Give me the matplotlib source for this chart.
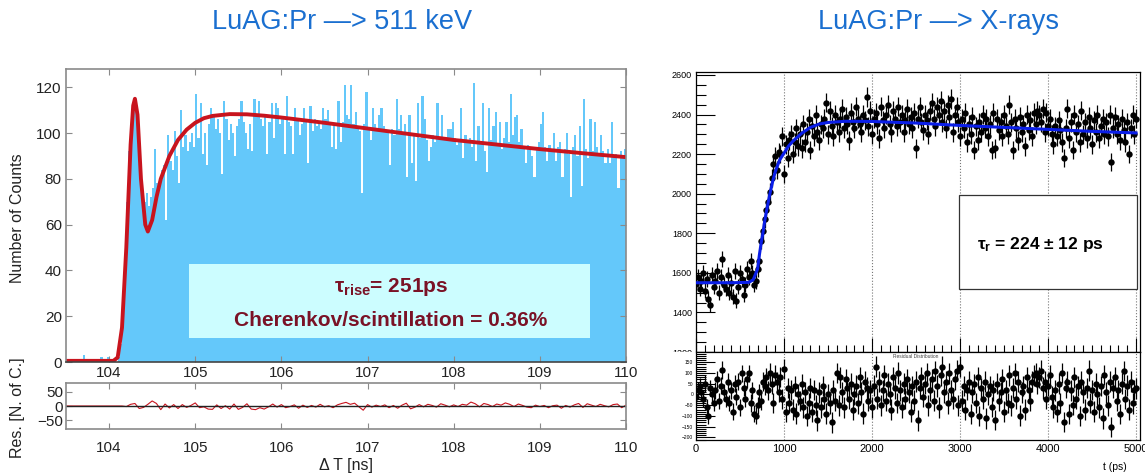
import numpy as np
import matplotlib
matplotlib.use('Agg')
import matplotlib.pyplot as plt
from matplotlib.patches import Rectangle
from matplotlib.ticker import MultipleLocator

plt.rcParams['font.family'] = ['Liberation Sans', 'DejaVu Sans']
plt.rcParams['mathtext.fontset'] = 'custom'
plt.rcParams['mathtext.rm'] = 'Liberation Sans:bold'
plt.rcParams['mathtext.it'] = 'Liberation Sans:bold'
plt.rcParams['mathtext.bf'] = 'Liberation Sans:bold'

# ---- left: LuAG:Pr 511 keV histogram (bins of 0.025 ns from 103.5 ns)
hist_start = 103.5
hist_bin = 0.025
counts = [
    0, 0, 0, 0, 0, 0, 0, 0, 3, 0, 0, 0, 0, 0, 0, 0, 2, 0, 0, 2, 0, 0, 1, 0,
    2, 8, 22, 45, 70, 92, 105, 112, 110, 98, 82, 72, 70, 74, 68, 72,
    76, 93, 78, 80, 84, 86, 62, 99, 88, 84, 101, 90, 78, 110, 94, 99, 92, 96, 100, 94,
    117, 98, 113, 91, 100, 86, 104, 111, 108, 102, 106, 100, 82, 114, 106, 97, 104, 100, 90, 103,
    106, 114, 105, 100, 93, 104, 92, 115, 108, 114, 106, 103, 108, 91, 105, 113, 98, 113, 111, 104,
    106, 91, 116, 105, 103, 91, 111, 106, 99, 104, 111, 105, 87, 112, 101, 106, 103, 105, 102, 111,
    106, 110, 104, 94, 103, 93, 114, 96, 105, 121, 108, 106, 121, 104, 109, 103, 101, 74, 104, 118,
    102, 97, 111, 104, 102, 108, 111, 103, 101, 100, 86, 102, 99, 115, 102, 108, 100, 104, 81, 108,
    87, 100, 79, 113, 98, 116, 106, 97, 88, 94, 99, 96, 113, 98, 108, 97, 98, 102, 102, 105,
    98, 95, 97, 111, 89, 99, 96, 98, 94, 122, 88, 103, 96, 113, 92, 83, 111, 97, 103, 109,
    95, 105, 93, 98, 105, 96, 117, 99, 107, 108, 96, 102, 94, 87, 95, 93, 90, 81, 94, 96,
    104, 109, 94, 88, 95, 92, 100, 88, 94, 96, 81, 93, 100, 91, 72, 94, 99, 90, 103, 77,
    115, 93, 89, 106, 92, 105, 94, 91, 99, 92, 87, 93, 87, 105, 90, 91, 76, 92, 89, 93,
]

fit_t = [103.5, 104.05, 104.1, 104.15, 104.2, 104.25, 104.28, 104.3, 104.33, 104.37,
         104.42, 104.45, 104.5, 104.55, 104.6, 104.7, 104.8, 104.9, 105.0, 105.1,
         105.2, 105.4, 105.6, 105.8, 106.0, 106.5, 107.0, 107.5, 108.0, 108.5,
         109.0, 109.5, 110.0]
fit_y = [0.5, 0.5, 2, 15, 50, 95, 112, 115, 108, 80,
         60, 57, 62, 72, 80, 90, 97, 101.5, 104.5, 106.5,
         107.5, 108.3, 108.2, 107.6, 106.8, 104.5, 102, 99.5, 97, 95,
         93, 91.2, 89.5]

# residuals every 0.05 ns from 103.5 ns
res_start = 103.5
res_step = 0.05
res_left = [
    0, 0, 0, 0, 0, 0, 0, 0, 0, 0, 0, 0, 0, 0,
    -2, 6, 9, -9, -5, 6, 18, 9, -13, 7, -7, 5, -9, 5, -5, 2, 11, -6, -3, -11,
    -12, 4, -9, 1, -11, 7, -12, -5, 8, -11, -13, -6, -11, -3, 7, -4,
    5, -6, -2, 4, -8, 3, -5, 2, -4, 6, -3, 1, -6, 4, 9, 13, 6, 10, -3, -15,
    5, -4, 3, -2, 4, -6, 2, -8, 3, 10, -10, -4, 5, -3, 6, 2, -4, 8, 3, -3,
    4, -2, 6, 3, 14, 8, -3, 9, 5, -2, 7, 3, 11, 6, -2, 7, 2, -4, -6, 3,
    -2, 2, -6, 1, 3, -8, 2, -4, 4, 9, -5, 8, 3, -2, 6, 1, -3, 5, 7, -6, 3,
]

# ---- right: LuAG:Pr X-rays, one point every 20 ps from 0 ps
xr_step = 20
xr_counts = [
    1545, 1580, 1520, 1560, 1600, 1510, 1570, 1470, 1440, 1590, 1530, 1560, 1610, 1500, 1580, 1670,
    1540, 1520, 1590, 1500, 1550, 1480, 1610, 1460, 1530, 1600, 1570, 1490, 1540, 1620, 1580,
    1660, 1600, 1540, 1560, 1620, 1660, 1760, 1810, 1870, 1920, 1960, 2010, 2080, 2150, 2190,
    2120, 2210, 2200, 2290, 2100,
    2250, 2180, 2270, 2300, 2200, 2260, 2330, 2240, 2300, 2230, 2350, 2260, 2310, 2380, 2220,
    2340, 2290, 2400, 2310, 2270, 2350, 2330, 2380, 2460, 2300, 2420, 2340, 2290, 2400, 2360,
    2310, 2380, 2430, 2330, 2390, 2350, 2270, 2410, 2360, 2330, 2440, 2380, 2350, 2310, 2400,
    2370, 2490, 2340, 2420, 2300,
    2380, 2410, 2350, 2280, 2440, 2370, 2330, 2400, 2450, 2350, 2310, 2420, 2380, 2340, 2440,
    2360, 2400, 2310, 2370, 2430, 2350, 2390, 2330, 2410, 2230, 2380, 2440, 2360, 2320, 2400,
    2370, 2300, 2420, 2460, 2380, 2340, 2440, 2400, 2470, 2360, 2420, 2330, 2450, 2390, 2480,
    2310, 2400, 2440, 2360, 2290,
    2380, 2330, 2410, 2260, 2350, 2300, 2390, 2220, 2340, 2270, 2360, 2310, 2400, 2330, 2380,
    2290, 2350, 2220, 2410, 2230, 2380, 2320, 2360, 2290, 2400, 2340, 2300, 2450, 2360, 2220,
    2380, 2330, 2270, 2390, 2310, 2350, 2240, 2400, 2320, 2370, 2290, 2410, 2350, 2420, 2400,
    2360, 2430, 2310, 2410, 2340,
    2380, 2300, 2250, 2340, 2290, 2370, 2320, 2260, 2180, 2330, 2430, 2280, 2360, 2220, 2400,
    2310, 2350, 2260, 2420, 2300, 2360, 2280, 2390, 2330, 2250, 2370, 2310, 2400, 2280, 2340,
    2380, 2300, 2360, 2290, 2400, 2160, 2330, 2390, 2300, 2350, 2270, 2380, 2320, 2260, 2360,
    2200, 2330, 2400, 2300, 2380,
]
xr_resid = [
    -10, 20, 40, 10, -20, 50, -60, -100, 30, 0, -40, 20, 70, -30, 40, 115,
    10, -20, 60, -40, 20, -80, 50, -10, 60, -60, 100, 30, -20, 70, 100,
    -40, 20, -90, -100, -50, 10, -30, 60, 40, 80, 20, 100, 50, -40, 90, 60, 10, 80, -20, 120,
    -80, 30, -40, 20, -70, 40, -90, 0, -30, 50, -60, 10, -100, -40, 30, -80, 20, -50, -120, 10,
    -60, 40, -20, -90, 0, -40, -130, 20, -30, 100, -50, 80, 10, -60, 70, 30, -20, 50, -70, 0,
    40, -40, 80, 10, -90, 60, 30, -30, 20, -60,
    40, 130, -20, 60, -50, 20, 90, -30, 50, 0, -70, 80, 30, -40, 100, 20, -60, 50, -20, 70,
    10, -80, 40, -30, 60, -120, 30, 80, -10, 50, 100, -50, 20, 70, -30, 110, 40, -60, 90, 130,
    10, 60, -40, 100, 20, -20, 70, 110, -50, 130,
    -30, 40, -70, 20, 60, -90, 10, 50, -40, 80, -100, 30, -20, 60, -110, 0, 40, -60, 20, -120,
    50, -30, 10, 70, -80, 20, -40, 90, -50, 30, 100, -20, 60, -100, 10, 40, -70, 80, 20, -30,
    60, 90, 100, 50, 80, 110, 30, 60, -20, 40,
    90, -10, -60, 20, -80, 50, -40, 100, -130, 30, 60, -90, 20, -50, 80, -20, 40, -100, 60, 10,
    -70, 30, 110, -40, 20, -80, 50, 0, -60, 40, -110, 90, 10, -50, 60, -150, 30, 80, -30, 20,
    -90, 50, 110, -20, 40, -70, 60, -40, 20, 30,
]
xr_fit_t = [0, 400, 600, 650, 700, 720, 740, 760, 780, 800, 820, 840, 870, 900, 950,
            1000, 1050, 1100, 1200, 1300, 1400, 1500, 1700, 2000, 2500, 3000, 3500,
            4000, 4500, 5000]
xr_fit_y = [1550, 1550, 1552, 1565, 1620, 1690, 1750, 1800, 1860, 1910, 1955, 2000,
            2060, 2110, 2170, 2205, 2240, 2265, 2305, 2335, 2352, 2360, 2366, 2365,
            2357, 2345, 2335, 2325, 2315, 2307]

hist_blue = '#64c8fa'
fit_red = '#c8141e'
text_red = '#7a1226'
title_blue = '#1a6fd0'
frame_grey = '#8a8a8a'

W, H = 1145, 475
fig = plt.figure(figsize=(W / 100, H / 100), dpi=100)

fig.text(342 / W, 1 - 22 / H, 'LuAG:Pr —> 511 keV', color=title_blue,
         fontsize=19.5, ha='center', va='center')
fig.text(938 / W, 1 - 22 / H, 'LuAG:Pr —> X-rays', color=title_blue,
         fontsize=19.5, ha='center', va='center')

# ---------------- left panel ----------------
ax = fig.add_axes([66 / W, 1 - 362 / H, 560 / W, 293 / H])
edges = hist_start + hist_bin * np.arange(len(counts) + 1)
ax.stairs(counts, edges, fill=True, color=hist_blue, linewidth=0)
ax.plot(fit_t, fit_y, color=fit_red, lw=2.8, solid_capstyle='round')
ax.set_xlim(103.5, 110)
ax.set_ylim(0, 128)
ax.set_xticks(range(104, 111))
ax.set_yticks(range(0, 121, 20))
ax.tick_params(direction='in', top=True, right=True, length=4, color=frame_grey,
               labelsize=11, labelcolor='#222222', pad=3)
for s in ax.spines.values():
    s.set_color(frame_grey)
    s.set_linewidth(1.2)
ax.spines['bottom'].set_color('#444444')
ax.add_patch(Rectangle((104.93, 10.5), 4.65, 32.3, facecolor='#ccfdff',
                       edgecolor='none', zorder=3))
ax.text(107.27, 32.7, r'$\tau_{rise}$= 251ps', color=text_red, fontsize=15,
        fontweight='bold', ha='center', va='center', zorder=4)
ax.text(107.27, 18.3, 'Cherenkov/scintillation = 0.36%', color=text_red,
        fontsize=15, fontweight='bold', ha='center', va='center', zorder=4)
fig.text(18 / W, 1 - 218 / H, 'Number of Counts', rotation=90,
         ha='center', va='center', fontsize=11.5, color='#222222')

axr = fig.add_axes([66 / W, 1 - 429 / H, 560 / W, 46 / H])
rt = res_start + res_step * np.arange(len(res_left))
axr.plot(rt, res_left, color=fit_red, lw=0.8)
axr.axhline(0, color='#222222', lw=1.0)
axr.set_xlim(103.5, 110)
axr.set_ylim(-82, 82)
axr.set_xticks(range(104, 111))
axr.set_yticks([-50, 0, 50])
axr.tick_params(direction='in', top=True, right=True, length=4, color=frame_grey,
                labelsize=11, labelcolor='#222222')
axr.tick_params(axis='x', pad=9)
axr.tick_params(axis='y', pad=2)
for s in axr.spines.values():
    s.set_color(frame_grey)
    s.set_linewidth(1.2)
axr.set_xlabel('Δ T [ns]', fontsize=11.5, color='#222222', labelpad=2)
fig.text(18 / W, 1 - 408 / H, 'Res. [N. of C.]', rotation=90,
         ha='center', va='center', fontsize=11.5, color='#222222')

# ---------------- right panel ----------------
t = xr_step * np.arange(len(xr_counts))
err = np.sqrt(np.array(xr_counts, dtype=float))

bx = fig.add_axes([696 / W, 1 - 352 / H, 444 / W, 280 / H])
bx.set_zorder(1)
bx.errorbar(t, xr_counts, yerr=err, fmt='o', color='black', ms=4.6, mew=0,
            elinewidth=0.9, capsize=1.3, capthick=0.9, zorder=3)
bx.plot(xr_fit_t, xr_fit_y, color='#0a1ee8', lw=2.2, zorder=4)
bx.set_xlim(0, 5045)
bx.set_ylim(1200, 2615)
bx.yaxis.set_major_locator(MultipleLocator(200))
bx.yaxis.set_minor_locator(MultipleLocator(50))
bx.xaxis.set_major_locator(MultipleLocator(1000))
bx.xaxis.set_minor_locator(MultipleLocator(100))
bx.tick_params(axis='y', which='major', direction='in', length=14, width=0.8,
               labelsize=6.5, pad=3)
bx.tick_params(axis='y', which='minor', direction='in', length=7, width=0.8)
bx.tick_params(axis='x', which='both', direction='in', labelbottom=False)
bx.tick_params(axis='x', which='major', length=10, width=0.8)
bx.tick_params(axis='x', which='minor', length=5, width=0.8)
bx.grid(axis='x', which='major', linestyle=':', color='#777777', lw=0.8)
for s in bx.spines.values():
    s.set_linewidth(0.9)
bx.add_patch(Rectangle((2989, 1519), 2022, 476, facecolor='white',
                       edgecolor='#333333', lw=0.9, zorder=5))
bx.text(3909, 1742, r'$\tau_r$ = 224 ± 12 ps', fontsize=12.5, fontweight='bold',
        ha='center', va='center', zorder=6)

# white pad below the main frame hides the lower half of the "1200" label
fig.patches.append(Rectangle((640 / W, 1 - 440 / H), 56 / W, 88 / H,
                             transform=fig.transFigure, facecolor='white',
                             edgecolor='none', zorder=1.5))

br = fig.add_axes([696 / W, 1 - 440 / H, 444 / W, 88 / H])
br.set_zorder(2)
br.patch.set_facecolor('white')
br.errorbar(t[:len(xr_resid)], xr_resid, yerr=err[:len(xr_resid)], fmt='o',
            color='black', ms=4.6, mew=0, elinewidth=0.9, capsize=1.3,
            capthick=0.9, zorder=3)
br.set_xlim(0, 5045)
br.set_ylim(-212, 198)
br.yaxis.set_major_locator(MultipleLocator(50))
br.yaxis.set_minor_locator(MultipleLocator(10))
br.xaxis.set_major_locator(MultipleLocator(1000))
br.tick_params(axis='y', which='major', direction='in', length=14, width=0.8,
               labelsize=3.5, pad=2)
br.tick_params(axis='y', which='minor', direction='in', length=7, width=0.8)
br.tick_params(axis='x', which='major', direction='in', length=0, labelsize=8, pad=3)
br.grid(axis='x', which='major', linestyle=':', color='#777777', lw=0.8)
for s in br.spines.values():
    s.set_linewidth(0.9)
br.text(2500, 190, 'Residual Distribution', fontsize=3.5, ha='center', va='top',
        color='#444444')
fig.text(1115 / W, 1 - 467 / H, 't (ps)', fontsize=7.5, ha='center', va='center')

fig.savefig('out.png', dpi=100)
